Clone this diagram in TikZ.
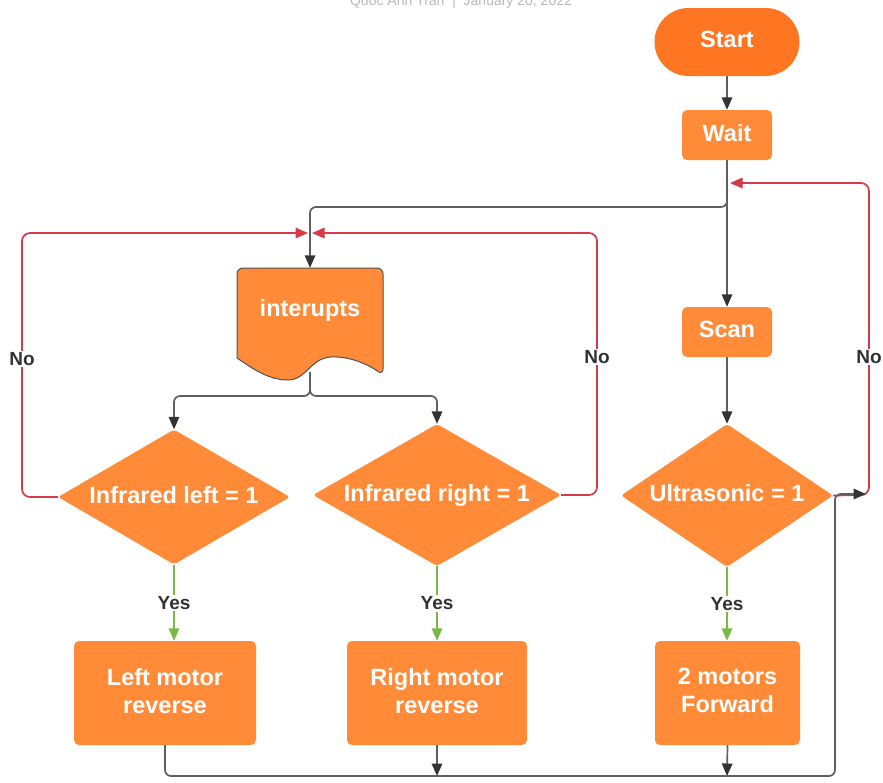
\documentclass[tikz,border=0pt]{standalone}
\usepackage{fontspec}
\setmainfont{Liberation Sans}
\usetikzlibrary{arrows.meta,shapes.geometric,calc}
\pgfdeclarelayer{bg}
\pgfsetlayers{bg,main}

\definecolor{boxorange}{RGB}{255,139,56}
\definecolor{startorange}{RGB}{255,118,34}
\definecolor{noRed}{RGB}{212,58,72}
\definecolor{yesGreen}{RGB}{122,184,72}
\definecolor{lineGray}{RGB}{95,95,95}
\definecolor{tipGray}{RGB}{51,51,51}
\definecolor{labelGray}{RGB}{51,51,51}
\definecolor{docEdge}{RGB}{80,80,80}

\tikzset{
  x=1pt, y=-1pt,
  txt/.style={text=white, align=center, inner sep=0, text depth=5pt,
    font=\fontsize{23.5}{28}\selectfont\bfseries},
  box/.style={rectangle, rounded corners=5pt, fill=boxorange, draw=none,
    inner sep=0, txt},
  dia/.style={diamond, fill=boxorange, draw=none, inner sep=0, rounded corners=3pt},
  tip/.style={-{Triangle[length=12.5pt,width=10.5pt,color=#1]}},
  flow/.style={lineGray, line width=1.7pt, tip=tipGray, rounded corners=6pt},
  noflow/.style={noRed, line width=1.7pt, tip=noRed, rounded corners=8pt},
  yesflow/.style={yesGreen, line width=1.7pt, tip=yesGreen},
  lbl/.style={fill=white, text=labelGray, inner sep=1.5pt,
    font=\fontsize{19}{22}\selectfont\bfseries},
}

\begin{document}
\begin{tikzpicture}
\useasboundingbox (0,0) rectangle (883,782);

% author line at the top edge
\node[anchor=base, text=black!28, font=\fontsize{14}{16}\selectfont] (hdr)
  at (461,5.5) {Quốc Anh Trần \;|\; January 20, 2022};

% main column
\node[box, fill=startorange, rounded corners=34pt, minimum width=145pt, minimum height=68pt] (start) at (727,42) {Start};
\node[box, minimum width=90pt, minimum height=50pt] (wait) at (727,135) {Wait};
\node[box, minimum width=90pt, minimum height=50pt] (scan) at (727,332) {Scan};

% interrupt document shape
\node[inner sep=0, minimum width=146pt, minimum height=114pt] (doc) at (310,325) {};
\draw[fill=boxorange, draw=docEdge, line width=1pt, rounded corners=6pt]
  (237,358) -- (237,268) -- (383,268) -- (383,375) [sharp corners]
  .. controls (366,363) and (348,356) .. (330,357)
  .. controls (310,359) and (306,380) .. (288,380)
  .. controls (268,380) and (252,368) .. (237,358) -- cycle;
\node[txt] (doctext) at (310,310) {interupts};
\coordinate (docb) at (310,372);

% decisions
\node[dia, minimum width=232pt, minimum height=135pt] (il) at (174,497) {};
\node[txt] (iltext) at (il) {Infrared left = 1};
\node[dia, minimum width=248pt, minimum height=142pt] (ir) at (437,495) {};
\node[txt] (irtext) at (ir) {Infrared right = 1};
\node[dia, minimum width=212pt, minimum height=143pt] (us) at (727,495.5) {};
\node[txt] (ustext) at (us) {Ultrasonic = 1};

% actions
\node[box, minimum width=182pt, minimum height=104pt] (lm) at (165,693) {Left motor\\reverse};
\node[box, minimum width=180pt, minimum height=104pt] (rm) at (437,693) {Right motor\\reverse};
\node[box, minimum width=145pt, minimum height=104pt] (fw) at (727.5,693) {2 motors\\Forward};

% junction points
\coordinate (jl) at (308,233);
\coordinate (jr) at (312,233);
\coordinate (jt) at (730,183);
\coordinate (b1) at (437,776);
\coordinate (b2) at (727,776);
\coordinate (loopend) at (866,494);

\begin{pgfonlayer}{bg}
  \draw[flow] (start.south) -- (wait.north);
  \draw[flow] (wait.south) -- (scan.north);
  \draw[flow] (wait.south) -- (wait.south |- 0,207) -| (doc.north);
  \draw[flow] (scan.south) -- (us.north);
  \draw[flow] (docb) -- (310,396) -| (il.north);
  \draw[flow] (docb) -- (310,396) -| (ir.north);

  \draw[noflow] (il.west) -- (22,497) |- (jl);
  \draw[noflow] (ir.east) -- (597,495) |- (jr);
  \draw[noflow] (us.east) -- (869,495) |- (jt);

  \draw[yesflow] (il.south) -- (il.south |- lm.north)
    node[lbl, midway] (yl) {Yes};
  \draw[yesflow] (ir.south) -- (ir.south |- rm.north)
    node[lbl, midway] (yr) {Yes};
  \draw[yesflow] (us.south) -- (us.south |- fw.north)
    node[lbl, midway] (yu) {Yes};

  \draw[flow] (rm.south) -- (b1);
  \draw[flow] (fw.south) -- (b2);
  \draw[flow] (lm.south) -- (165,776) -- (835,776) -- (835,494) -- (loopend);
\end{pgfonlayer}

\node[lbl] (nl) at (22,359) {No};
\node[lbl] (nr) at (597,357) {No};
\node[lbl] (nu) at (869,357) {No};
\end{tikzpicture}
\end{document}
